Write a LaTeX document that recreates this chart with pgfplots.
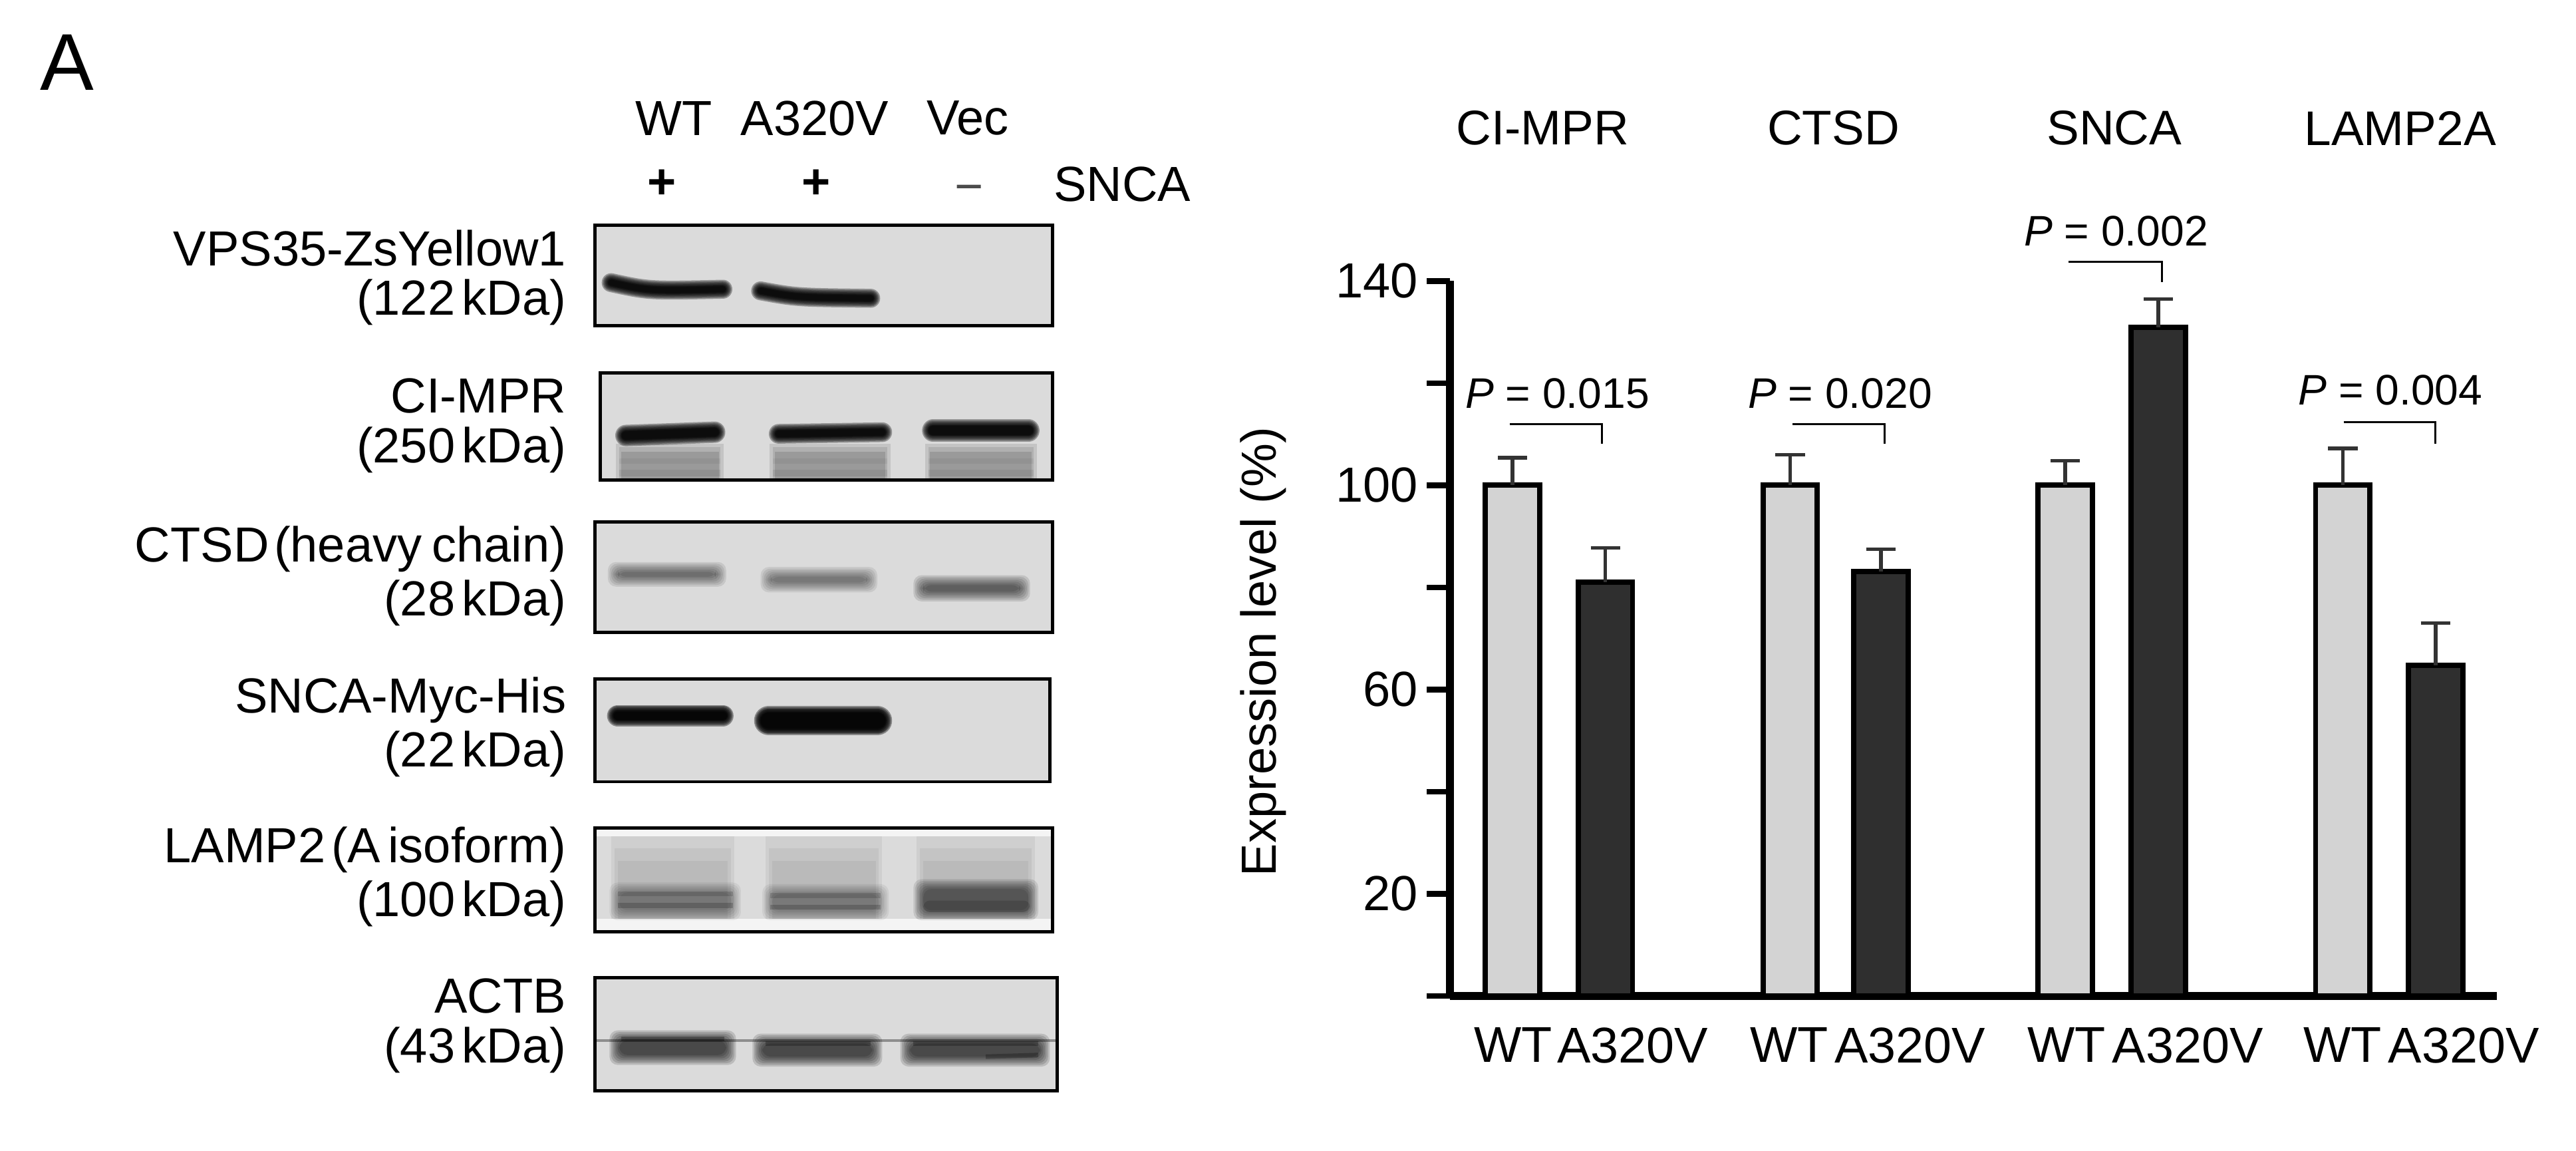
\documentclass[border=0pt]{standalone}
\usepackage{pgfplots}
\pgfplotsset{compat=1.18}
\usepackage{fontspec}
\setmainfont{Liberation Sans}
\newcommand\fs{\fontsize{15}{18}\selectfont}
\newcommand\fsp{\fontsize{13}{16}\selectfont}
\definecolor{lightbar}{HTML}{D3D3D3}
\definecolor{darkbar}{HTML}{2F2F2F}
\definecolor{blotbg}{HTML}{DBDBDB}
% blurred band along a path: {path}{width}{per-layer opacity}
\newcommand\sband[3]{%
  \foreach \e in {8,6.5,5,3.5,2,1,0}{%
    \draw[black,opacity=#3,line cap=round,line width={(#2+\e)*0.5pt}] #1;}}
% blurred rectangular band: x1 x2 y1 y2 opacity
\newcommand\rband[5]{%
  \foreach \e in {5,4,3,2,1,0,-1}{%
    \fill[black,opacity=#5,rounded corners=2.5pt] (#1-\e,#3-\e) rectangle (#2+\e,#4+\e);}}
\newcommand\panel[5]{%
  \begin{scope}
    \clip (#1,#2) rectangle (#3,#4);
    \fill[blotbg] (#1,#2) rectangle (#3,#4);
    #5
  \end{scope}
  \draw[black,line width=1pt] (#1,#2) rectangle (#3,#4);}
\newcommand\lab[3]{%
  \node[anchor=east,inner sep=0pt,font=\fs] at (345,#1) {#2};
  \node[anchor=east,inner sep=0pt,font=\fs] at (345,#1+33) {#3};}
\newcommand\kd{\hspace{0.14em}kDa}
\begin{document}
\begin{tikzpicture}
\begin{scope}[x=0.5pt,y=-0.5pt]
\path[use as bounding box] (0,0) rectangle (1568,700);
\node[inner sep=0pt,font=\fontsize{24.5}{28}\selectfont] at (41,38) {A};
\node[inner sep=0pt,font=\fs] at (410,72) {WT};
\node[inner sep=0pt,font=\fs] at (496,72) {A320V};
\node[inner sep=0pt,font=\fs] at (589,72) {Vec};
\node[inner sep=0pt,font=\fs] at (403,112) {\textbf{+}};
\node[inner sep=0pt,font=\fs] at (497,112) {\textbf{+}};
\node[inner sep=0pt,font=\fs,text=black!70] at (590,118) {\textminus};
\node[anchor=west,inner sep=0pt,font=\fs] at (641,112) {SNCA};
\lab{151}{VPS35-ZsYellow1}{(122\kd)}
\lab{241}{CI-MPR}{(250\kd)}
\lab{334}{CTSD\hspace{0.1em}(heavy\hspace{0.2em}chain)}{(28\kd)}
\lab{426}{SNCA-Myc-His}{(22\kd)}
\lab{517}{LAMP2\hspace{0.12em}(A\hspace{0.15em}isoform)}{(100\kd)}
\lab{606}{ACTB}{(43\kd)}
% blots
\panel{362}{137}{640.5}{198}{%
  \sband{(372,172) .. controls (395,177) .. (440,176)}{3.5}{0.33}
  \sband{(463,177) .. controls (485,181) .. (530,181.5)}{3.5}{0.33}
}
\panel{365.5}{227}{640.5}{292}{%
  \foreach \xa/\xb in {377/438.5,470.5/540,565/629}{
    \fill[black,opacity=0.1] (\xa-2,270) rectangle (\xb+2,292);
    \fill[black,opacity=0.1] (\xa,272) rectangle (\xb,292);
    \fill[black,opacity=0.12] (\xa+1,275) rectangle (\xb-1,292);
    \fill[black,opacity=0.07] (\xa,286) rectangle (\xb,290);
    \fill[black,opacity=0.05] (\xa,279) rectangle (\xb,282);
  }
  \sband{(381,265) -- (435,263)}{5}{0.33}
  \sband{(474,264) -- (537,263)}{4}{0.33}
  \sband{(568,262) -- (626,262)}{5.5}{0.33}
}
\panel{362}{317.5}{640.5}{385}{%
  \rband{375}{437}{347}{352}{0.09}
  \rband{468}{529}{350}{355.5}{0.08}
  \rband{561}{622}{355}{361}{0.11}
}
\panel{362}{413}{639}{475.7}{%
  \sband{(376,435.5) -- (440,435.5)}{5}{0.38}
  \sband{(468,438.5) -- (534,438.5)}{10}{0.38}
}
\panel{362}{504}{640.5}{567}{%
  \fill[white,opacity=0.7] (362,504) rectangle (640.5,509);
  \fill[white,opacity=0.7] (362,559) rectangle (640.5,567);
  \foreach \xa/\xb in {372/447,466/537,558/630}{
    \fill[black,opacity=0.05] (\xa,509) rectangle (\xb,559);
    \fill[black,opacity=0.05] (\xa+2,516) rectangle (\xb-2,559);
    \fill[black,opacity=0.05] (\xa+4,524) rectangle (\xb-4,559);
  }
  \rband{376}{446}{542}{555}{0.06}
  \rband{469}{536}{543}{555}{0.055}
  \rband{561}{627}{540}{555}{0.1}
  \draw[black,opacity=0.14,line width=1.5pt] (376,544) -- (446,544);
  \draw[black,opacity=0.18,line width=1.6pt] (376,551) -- (446,551);
  \draw[black,opacity=0.14,line width=1.5pt] (469,545) -- (536,545);
  \draw[black,opacity=0.18,line width=1.6pt] (469,552) -- (536,552);
  \fill[black,opacity=0.15,rounded corners=2pt] (562,548) rectangle (627,555);
}
\panel{362}{595}{643.5}{663.7}{%
  \draw[black,opacity=0.35,line width=0.8pt] (362,633) -- (643.5,633);
  \rband{376}{443}{632}{643}{0.14}
  \rband{463}{532}{634}{644}{0.14}
  \rband{553}{634}{634}{644}{0.14}
  \draw[black,opacity=0.25,line width=1.4pt] (378,632) -- (441,632);
  \draw[black,opacity=0.25,line width=1.4pt] (466,635) -- (530,635);
  \draw[black,opacity=0.25,line width=1.4pt] (556,635) -- (632,635);
  \draw[black,opacity=0.25,line width=1.4pt] (600,643) -- (632,642);
}
\end{scope}
% chart
\begin{axis}[
  at={(441.3pt,-303pt)},anchor=south west,
  scale only axis,width=318.7pt,height=217.5pt,
  xmin=882.6,xmax=1520,ymin=0,ymax=140,
  axis lines=left,
  axis line style={-,line width=2.4pt,black},
  clip=false,
  tick align=outside,
  major tick length=7pt,
  ytick={0,20,40,60,80,100,120,140},
  yticklabels={,20,,60,,100,,140},
  ytick style={line width=1.7pt,black},
  xtick={921,993.7,1089,1162.7,1257.8,1331.7,1426,1499.7},
  xticklabels={WT,A320V,WT,A320V,WT,A320V,WT,A320V},
  xtick style={draw=none},
  yticklabel style={inner sep=2.5pt,font=\fs},
  xticklabel style={inner sep=0pt,yshift=-2.5pt,font=\fontsize{15.3}{18}\selectfont},
  ylabel={Expression level (\%)},
  ylabel style={font=\fs,inner sep=0pt,yshift=12.5pt,xshift=-4pt},
  ybar,bar width=16.5pt,bar shift=0pt,
  error bars/y dir=plus,error bars/y explicit,
  error bars/error mark=-,
  error bars/error bar style={line width=1.1pt,black!80},
  error bars/error mark options={line width=1.1pt,black!80,mark size=4.5pt,rotate=90},
]
\addplot[draw=black,line width=1.6pt,fill=lightbar] coordinates {
 (920.7,100) +- (0,5.4)
 (1089.7,100) +- (0,6.0)
 (1257,100) +- (0,4.8)
 (1426,100) +- (0,7.2)
};
\addplot[draw=black,line width=1.6pt,fill=darkbar] coordinates {
 (977.2,81) +- (0,6.7)
 (1144.9,83.1) +- (0,4.4)
 (1313.8,130.9) +- (0,5.6)
 (1482.5,64.7) +- (0,8.3)
};
\end{axis}
\begin{scope}[x=0.5pt,y=-0.5pt]
\foreach \x/\t in {939/CI-MPR,1116/CTSD,1287/SNCA,1461/LAMP2A}
  \node[inner sep=0pt,font=\fontsize{14.8}{18}\selectfont] at (\x,78) {\t};
\node[inner sep=0pt,font=\fsp] at (948,239.5) {\textit{P} = 0.015};
\node[inner sep=0pt,font=\fsp] at (1120,239.5) {\textit{P} = 0.020};
\node[inner sep=0pt,font=\fsp] at (1288,140.5) {\textit{P} = 0.002};
\node[inner sep=0pt,font=\fsp] at (1455,237.5) {\textit{P} = 0.004};
\draw[black,line width=0.6pt] (919,258) -- (975,258) -- (975,270);
\draw[black,line width=0.6pt] (1091,258) -- (1147,258) -- (1147,270);
\draw[black,line width=0.6pt] (1259,159.5) -- (1316,159.5) -- (1316,171.5);
\draw[black,line width=0.6pt] (1426.5,257) -- (1482.5,257) -- (1482.5,270);
\end{scope}
\end{tikzpicture}
\end{document}
